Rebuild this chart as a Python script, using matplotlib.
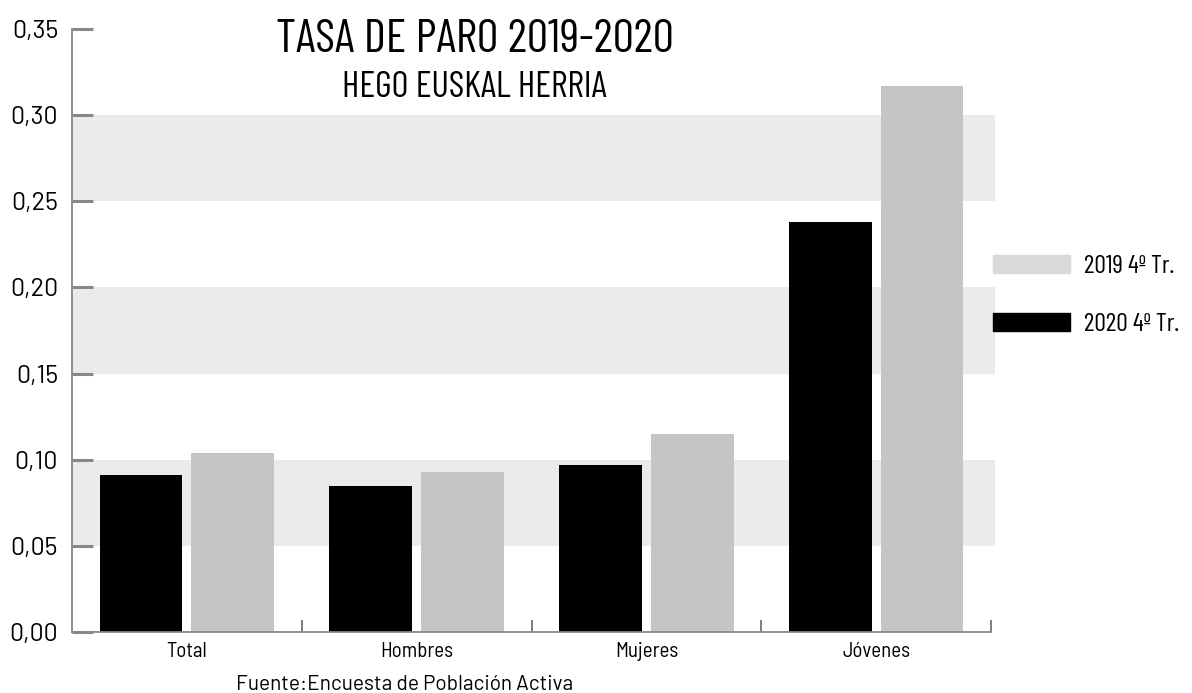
import numpy as np
import matplotlib
matplotlib.use('Agg')
import matplotlib.pyplot as plt
from matplotlib.patches import Patch
from matplotlib.ticker import FuncFormatter

# Data
categories = ['Total', 'Hombres', 'Mujeres', 'Jóvenes']
tasa_2020 = [0.091, 0.085, 0.097, 0.238]
tasa_2019 = [0.104, 0.093, 0.115, 0.317]
series_labels = ['2019 4º Tr.', '2020 4º Tr.']
bands = [(0.05, 0.10), (0.15, 0.20), (0.25, 0.30)]

plt.rcParams['font.family'] = ['Barlow Condensed', 'DejaVu Sans']
semi = ['Barlow Semi Condensed', 'DejaVu Sans']
wide = ['Barlow', 'DejaVu Sans']

fig = plt.figure(figsize=(11.92, 6.93), dpi=100)
ax = fig.add_axes([0.0604, 0.088, 0.771, 0.870])

x = np.arange(len(categories))
# light grey background bands
for lo, hi in bands:
    ax.axhspan(lo, hi, xmin=0, xmax=1.004, color='#ebebeb', zorder=0, lw=0, clip_on=False)

ax.bar(x - 0.2, tasa_2020, width=0.36, color='black', zorder=2)
ax.bar(x + 0.2, tasa_2019, width=0.36, color='#c5c5c5', zorder=2)

ax.set_xlim(-0.5, 3.5)
ax.set_ylim(0, 0.35)
ax.set_yticks(np.arange(0, 0.351, 0.05))
ax.yaxis.set_major_formatter(FuncFormatter(lambda v, p: f'{v:.2f}'.replace('.', ',')))
ax.set_xticks(x)
ax.set_xticklabels(categories)
ax.set_xticks(np.arange(0.5, 4, 1), minor=True)

for s in ['top', 'right']:
    ax.spines[s].set_visible(False)
for s in ['left', 'bottom']:
    ax.spines[s].set_color('#888888')
    ax.spines[s].set_linewidth(1.3)

ax.tick_params(axis='y', direction='in', length=15, width=2.2, color='#888888',
               labelsize=18, pad=10)
ax.tick_params(axis='x', which='major', length=0, labelsize=15, pad=7)
ax.tick_params(axis='x', which='minor', direction='in', length=9, width=1.2, color='#666666')
for lab in ax.get_yticklabels():
    lab.set_family(wide)
for lab in ax.get_xticklabels():
    lab.set_family(semi)

handles = [Patch(color='#dadada'), Patch(color='black')]
fig.legend(handles, series_labels, loc='center left', bbox_to_anchor=(0.833, 0.574),
           frameon=False, fontsize=18.5, borderpad=0, borderaxespad=0,
           handlelength=3.0, handleheight=0.75, labelspacing=1.35, handletextpad=0.55)

fig.text(0.398, 0.925, 'TASA DE PARO 2019-2020', ha='center', va='baseline', fontsize=34)
fig.text(0.398, 0.860, 'HEGO EUSKAL HERRIA', ha='center', va='baseline', fontsize=26.5)
fig.text(0.339, 0.005, 'Fuente:Encuesta de Población Activa', ha='center', va='baseline',
         fontsize=15, family=wide)

fig.savefig('out.png', dpi=100)
